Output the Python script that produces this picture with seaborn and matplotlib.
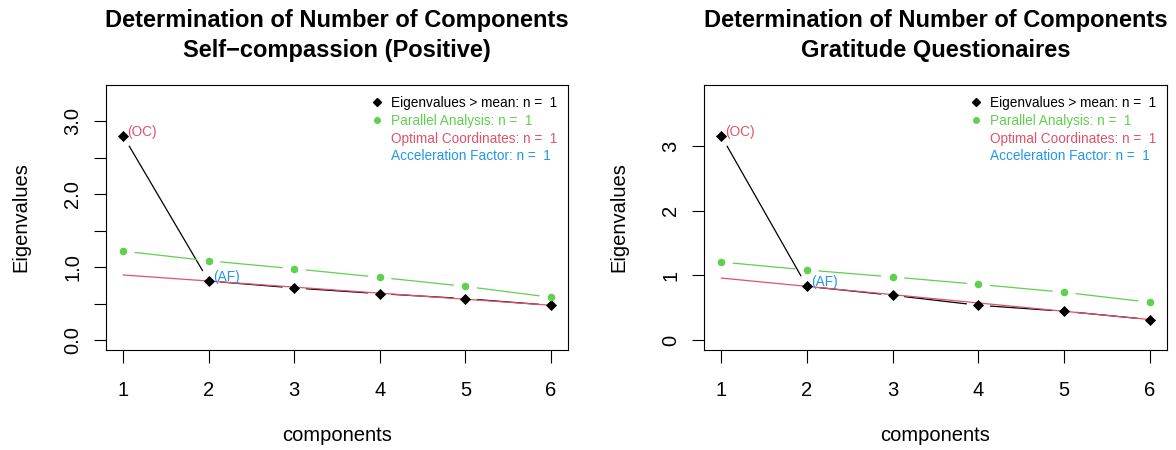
import numpy as np
import matplotlib
matplotlib.use("Agg")
import matplotlib.pyplot as plt
from matplotlib.lines import Line2D
import seaborn as sns

"""DATA"""
components = [1, 2, 3, 4, 5, 6]

selfcomp_eigen = [2.80, 0.81, 0.715, 0.637, 0.569, 0.478]
selfcomp_parallel = [1.22, 1.087, 0.978, 0.86, 0.737, 0.587]

gratitude_eigen = [3.16, 0.832, 0.694, 0.54, 0.447, 0.319]
gratitude_parallel = [1.208, 1.085, 0.977, 0.863, 0.74, 0.586]

main_title = "Determination of Number of Components"
panel_titles = ["Self\u2212compassion (Positive)", "Gratitude Questionaires"]

selfcomp_yticks = [0, 0.5, 1, 1.5, 2, 2.5, 3]
selfcomp_yticklabels = ["0.0", "", "1.0", "", "2.0", "", "3.0"]
gratitude_yticks = [0, 1, 2, 3]
gratitude_yticklabels = ["0", "1", "2", "3"]

legend_labels = ["Eigenvalues > mean: n =  1", "Parallel Analysis: n =  1",
                 "Optimal Coordinates: n =  1", "Acceleration Factor: n =  1"]

GREEN, RED, BLUE = "#61D04F", "#DF536B", "#2297E6"


"""PLOTTING"""
sns.set_theme(style="ticks")
plt.rcParams['font.family'] = ['Liberation Sans', 'DejaVu Sans']
plt.rcParams['axes.linewidth'] = 0.8
plt.rcParams['text.color'] = 'black'
plt.rcParams['axes.labelcolor'] = 'black'
plt.rcParams['xtick.color'] = 'black'
plt.rcParams['ytick.color'] = 'black'


def gapped_line(ax, x, y, gap_px=12, **kw):
    # R type="b": segments between points with a gap around each point
    to_disp = ax.transData
    pts = to_disp.transform(np.column_stack([x, y]))
    for p, q in zip(pts[:-1], pts[1:]):
        d = q - p
        length = np.hypot(*d)
        if length <= 2 * gap_px:
            continue
        u = d / length
        seg = to_disp.inverted().transform(np.array([p + u * gap_px, q - u * gap_px]))
        ax.plot(seg[:, 0], seg[:, 1], **kw)


def nscree(ax, eigen, parallel, yticks, yticklabels, subtitle, center_x):
    top = 1.2 * max(eigen)
    ax.set_xlim(0.8, 6.2)
    ax.set_ylim(-0.04 * top, top * 1.04)

    gapped_line(ax, components, eigen, color="black", lw=0.9, zorder=2)
    gapped_line(ax, components, parallel, color=GREEN, lw=0.9, zorder=2)

    # optimal coordinates line: through eigenvalue 2 and 6, extended back to 1
    slope = (eigen[5] - eigen[1]) / (components[5] - components[1])
    oc_y = [eigen[1] - slope, eigen[5]]
    sns.lineplot(x=[components[0], components[5]], y=oc_y, color=RED, lw=0.9,
                 ax=ax, zorder=3)

    sns.scatterplot(x=components, y=eigen, marker="D", color="black", s=32,
                    linewidth=0, ax=ax, zorder=4)
    sns.scatterplot(x=components, y=parallel, marker="o", color=GREEN, s=30,
                    linewidth=0, ax=ax, zorder=4)

    ax.annotate("(OC)", (components[0], eigen[0]), xytext=(3.2, 2.5),
                textcoords="offset points", color=RED, fontsize=9.8,
                ha="left", va="center")
    ax.annotate("(AF)", (components[1], eigen[1]), xytext=(3.2, 2.8),
                textcoords="offset points", color=BLUE, fontsize=9.8,
                ha="left", va="center")

    ax.set_xticks(components)
    ax.set_xticklabels([str(c) for c in components])
    ax.set_yticks(yticks)
    ax.set_yticklabels(yticklabels, rotation=90, va="center")
    ax.tick_params(direction="out", length=9, width=0.8, labelsize=14.5, color="black")
    ax.tick_params(axis="x", pad=13)
    ax.tick_params(axis="y", pad=8)
    for s in ax.spines.values():
        s.set_visible(True)
        s.set_color("black")
    ax.set_xlabel("components", fontsize=14.5, labelpad=19)
    ax.set_ylabel("Eigenvalues", fontsize=14.5, labelpad=24)

    handles = [Line2D([], [], marker="D", color="black", ls="none", markersize=4),
               Line2D([], [], marker="o", color=GREEN, ls="none", markersize=4),
               Line2D([], [], ls="none"),
               Line2D([], [], ls="none")]
    ax.legend(handles, legend_labels, loc="upper right", bbox_to_anchor=(1.0, 1.0),
              frameon=False, fontsize=9.8, labelcolor=["black", GREEN, RED, BLUE],
              handlelength=1.0, handletextpad=0.5, labelspacing=0.28,
              borderaxespad=0.3, borderpad=0.5)

    fig.text(center_x, 1 - 21 / 450, main_title, fontsize=17, fontweight="bold",
             ha="center", va="center")
    fig.text(center_x, 1 - 51 / 450, subtitle, fontsize=17, fontweight="bold",
             ha="center", va="center")


fig = plt.figure(figsize=(11.76, 4.5), dpi=100)
W, H = 1176, 450
ax1 = fig.add_axes([106 / W, (H - 350) / H, 462 / W, 265 / H])
ax2 = fig.add_axes([704 / W, (H - 350) / H, 463 / W, 265 / H])

nscree(ax1, selfcomp_eigen, selfcomp_parallel, selfcomp_yticks, selfcomp_yticklabels,
       panel_titles[0], (106 + 568) / 2 / W)
nscree(ax2, gratitude_eigen, gratitude_parallel, gratitude_yticks, gratitude_yticklabels,
       panel_titles[1], (704 + 1167) / 2 / W)

fig.savefig("out.png", dpi=100, facecolor="white")
